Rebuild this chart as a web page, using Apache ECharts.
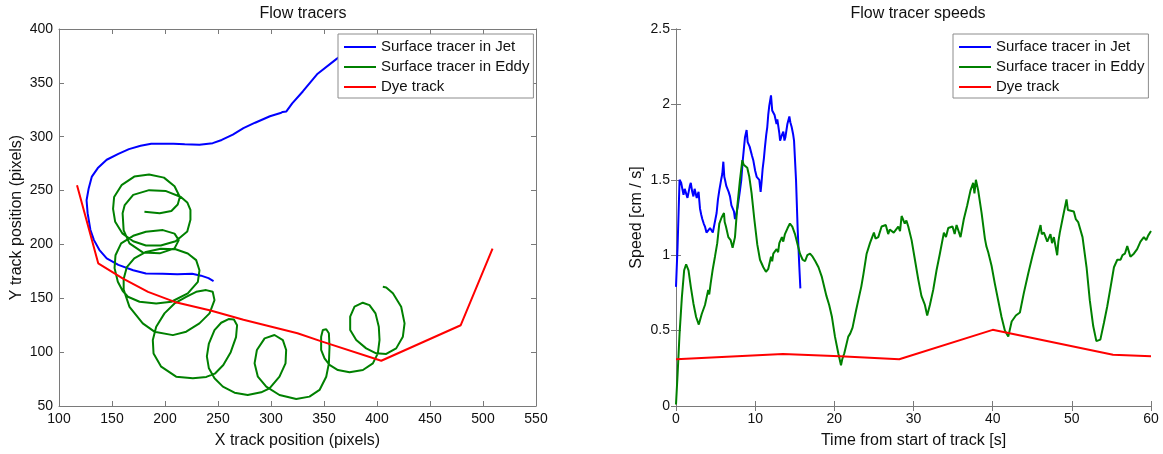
<!DOCTYPE html>
<html>
<head>
<meta charset="utf-8">
<script src="https://cdn.jsdelivr.net/npm/echarts@6/dist/echarts.min.js"></script>
<style>
  html, body { margin: 0; padding: 0; background: #fff; }
  #chart { width: 1163px; height: 454px; }
</style>
</head>
<body>
<div id="chart"></div>
<script>
const names = ['Surface tracer in Jet', 'Surface tracer in Eddy', 'Dye track'];

// left panel: tracer positions in pixels [x, y]
const jetPath = [[370,378],[361.6,372],[344,358.5],[330,342],[320,331],[314.5,323.5],[311,323],[309,322],[299,319],[285,313],[274,308],[264,302],[253.5,297],[245,294],[232.5,292.5],[218.6,293],[208,293.5],[187,293.5],[177,291.6],[166,288.5],[156,284],[145,278.6],[136.6,270.9],[131,263],[128,252],[126,241],[127,229],[129.6,213.6],[133,204],[138,195],[145,187],[156,181],[170,176],[182,173],[197.7,172.7],[211.6,172.4],[225.6,172.7],[234,171],[241,168.7],[245.8,166]];

const eddyPath = [[180.6,230.3],[195,229],[206,231],[212,237],[214,244],[209,254],[199,262],[185,265],[171,263],[159,255],[152,244],[151,233],[153,221],[160,210],[170,203],[182,199],[196,199],[210,203],[221,212],[224,223],[224,232],[221,239],[215,244],[201,249.5],[185,250.4],[170,246],[162,236.5],[160,229],[161,213],[166.5,201],[179,192.6],[195,191.7],[209,196.3],[213,204],[209,210],[198,213.3],[182,211.8],[170,208],[158.6,201],[153.3,190],[152.4,178],[155.5,165.4],[160,157],[165,151.4],[176,146.8],[191.7,145.2],[206,146.8],[221.5,154.5],[231,165.3],[232.5,176],[229.4,185.4],[221.5,191.6],[210,195.5],[196,196],[182,193],[171,187],[164,179],[161,168],[161,158],[166.5,142],[179,126.7],[190,119],[207.4,115.8],[220,119],[232.5,126.7],[242,136],[246.7,148.3],[245,156],[238.8,157.6],[229.4,156],[220,151.4],[209,145.2],[199.5,136],[191.7,123.6],[188.5,111.2],[189.2,98.8],[196.4,86.5],[210.5,77.2],[226.3,75.7],[239,77],[247,80],[255,88],[262,100],[267,114],[268,125],[265,130.4],[260,130.7],[253,127.3],[246.7,120.5],[241.4,108],[239.5,96],[241.4,85],[246.7,75.7],[254.6,68],[265.6,62.4],[278,60.2],[290.7,62.7],[298.6,66.4],[308,77.2],[313.7,89.6],[314.3,102],[311.2,111.2],[303.3,115.9],[294,112.8],[286.7,102],[284.5,89.6],[287.6,77.2],[295.5,68],[308,60.2],[323.8,56.5],[336.3,58.7],[345.8,64.9],[352.1,77.2],[354.6,89.6],[355.2,105],[354.6,117.5],[352.1,121.2],[348.9,120.5],[347.3,114.4],[347.3,102],[350.5,94.3],[355.2,88.1],[363.1,83.4],[374.1,81.3],[386.7,83.4],[396.1,89.6],[400.8,98.9],[402.4,111.3],[401.7,123.6],[398.6,136],[392.9,143.7],[386.6,145.9],[378.8,142.2],[374.7,132.9],[374.7,120.5],[380.4,111.3],[389.8,103.5],[399.2,98.9],[408.7,98.3],[418.1,103.5],[424.4,114.4],[426,126.7],[422.8,142.2],[415,154.6],[408.7,160.1],[405.5,160.7]];

const dyePath = [[117,255],[137,182.5],[160,168.5],[184,156],[211,146],[243,138.6],[274,130],[325,117.5],[347.6,110],[404,92],[479,125],[509,196]];

// right panel: [time s, speed cm/s]
const jetSpeed = [[0,0.79],[0.2,1.06],[0.45,1.5],[0.65,1.48],[0.95,1.4],[1.1,1.44],[1.28,1.45],[1.45,1.38],[1.58,1.39],[1.75,1.46],[1.87,1.48],[2.05,1.42],[2.2,1.39],[2.35,1.44],[2.5,1.45],[2.62,1.38],[2.73,1.39],[2.85,1.42],[3.03,1.31],[3.18,1.27],[3.32,1.24],[3.5,1.21],[3.66,1.19],[3.85,1.15],[4.07,1.16],[4.3,1.18],[4.5,1.19],[4.65,1.15],[4.8,1.16],[5.13,1.28],[5.3,1.37],[5.47,1.43],[5.7,1.5],[5.85,1.54],[5.98,1.62],[6.1,1.52],[6.19,1.5],[6.35,1.46],[6.48,1.47],[6.65,1.42],[6.82,1.39],[7.0,1.33],[7.15,1.34],[7.32,1.29],[7.45,1.24],[7.57,1.26],[7.79,1.32],[8.08,1.43],[8.25,1.5],[8.42,1.62],[8.6,1.72],[8.71,1.78],[8.92,1.83],[9.05,1.75],[9.13,1.76],[9.3,1.72],[9.43,1.73],[9.6,1.66],[9.76,1.63],[10.0,1.56],[10.19,1.52],[10.35,1.53],[10.52,1.5],[10.69,1.42],[10.8,1.48],[10.94,1.57],[11.1,1.64],[11.24,1.72],[11.4,1.8],[11.53,1.85],[11.65,1.93],[11.78,1.99],[12.0,2.06],[12.15,1.96],[12.3,1.97],[12.45,1.93],[12.55,1.94],[12.7,1.87],[12.8,1.9],[13.05,1.81],[13.15,1.76],[13.26,1.76],[13.4,1.8],[13.56,1.82],[13.7,1.76],[13.81,1.78],[14.07,1.87],[14.32,1.92],[14.45,1.88],[14.61,1.85],[14.8,1.8],[14.91,1.76],[15.16,1.5],[15.37,1.17],[15.58,0.92],[15.71,0.78]];

const eddySpeed = [[0,0.01],[0.2,0.21],[0.45,0.48],[0.74,0.72],[1.03,0.9],[1.28,0.94],[1.58,0.9],[1.87,0.79],[2.2,0.68],[2.54,0.59],[2.88,0.54],[3.0,0.54],[3.25,0.61],[3.66,0.67],[4.07,0.77],[4.2,0.74],[4.37,0.81],[4.62,0.9],[4.92,0.99],[5.21,1.08],[5.47,1.21],[5.76,1.25],[6.06,1.28],[6.15,1.22],[6.31,1.19],[6.61,1.12],[6.9,1.1],[7.15,1.05],[7.45,1.12],[7.74,1.32],[8.08,1.5],[8.38,1.63],[8.55,1.6],[8.71,1.61],[9.0,1.58],[9.26,1.52],[9.55,1.41],[9.89,1.24],[10.27,1.07],[10.61,0.97],[11.03,0.92],[11.36,0.89],[11.66,0.91],[12.0,0.99],[12.15,0.96],[12.29,1.01],[12.71,1.04],[12.9,1.02],[13.05,1.08],[13.38,1.12],[13.55,1.09],[13.76,1.14],[14.1,1.18],[14.39,1.21],[14.69,1.19],[15.03,1.14],[15.32,1.08],[15.66,1.01],[16.0,0.97],[16.3,0.96],[16.59,1.0],[16.93,1.01],[17.26,0.99],[17.6,0.96],[18.0,0.92],[18.4,0.86],[19.0,0.73],[19.35,0.67],[19.7,0.59],[20.08,0.46],[20.5,0.35],[20.84,0.27],[21.0,0.31],[21.26,0.35],[21.76,0.46],[22.0,0.48],[22.3,0.52],[22.73,0.63],[23.23,0.75],[23.4,0.79],[23.66,0.87],[24.08,1.01],[24.5,1.08],[25.0,1.15],[25.2,1.11],[25.55,1.12],[25.97,1.19],[26.5,1.2],[26.8,1.14],[27.0,1.17],[27.5,1.15],[28.08,1.19],[28.3,1.16],[28.5,1.26],[28.9,1.21],[29.1,1.23],[29.34,1.19],[29.76,1.1],[30.18,0.97],[30.6,0.84],[31.0,0.73],[31.44,0.67],[31.6,0.68],[31.73,0.6],[32.07,0.67],[32.49,0.77],[32.91,0.9],[33.33,1.01],[33.84,1.15],[34.1,1.12],[34.39,1.18],[34.93,1.19],[35.2,1.14],[35.44,1.2],[35.94,1.12],[36.36,1.24],[36.78,1.33],[37.2,1.43],[37.54,1.48],[37.7,1.41],[37.88,1.5],[38.17,1.43],[38.6,1.28],[39.02,1.11],[39.2,1.06],[39.44,1.02],[39.86,0.93],[40.28,0.81],[40.7,0.7],[41.12,0.59],[41.54,0.5],[41.97,0.46],[42.4,0.56],[42.93,0.6],[43.44,0.62],[43.94,0.75],[44.5,0.88],[45.0,0.99],[45.55,1.1],[46.05,1.2],[46.2,1.14],[46.47,1.15],[46.9,1.09],[47.3,1.14],[47.5,1.08],[47.73,1.12],[48.15,1.0],[48.3,1.09],[48.48,1.15],[48.9,1.26],[49.33,1.37],[49.5,1.3],[49.75,1.3],[50.25,1.29],[50.5,1.24],[50.8,1.22],[51.35,1.12],[51.86,0.92],[52.27,0.7],[52.7,0.53],[53.1,0.43],[53.6,0.44],[54.05,0.55],[54.47,0.66],[54.9,0.79],[55.32,0.92],[55.74,0.97],[56.16,0.97],[56.4,1.0],[56.7,1.01],[57.0,1.06],[57.4,0.99],[57.83,1.01],[58.25,1.04],[58.67,1.09],[59.1,1.12],[59.4,1.1],[59.64,1.13],[60,1.16]];

const dyeSpeed = [[0,0.31],[13.5,0.345],[20.7,0.33],[28.2,0.31],[40,0.505],[55.2,0.34],[60,0.33]];

const colors = ['#0000ff', '#008000', '#ff0000'];
const font = 'Liberation Sans, Arial, Helvetica, sans-serif';
const axisGray = '#7a7a7a';

function mainAxis(pos, grid, min, max, interval, name, nameGap) {
  return {
    type: 'value', gridIndex: grid, position: pos,
    min: min, max: max, interval: interval,
    name: name, nameLocation: 'middle', nameGap: nameGap,
    nameTextStyle: { fontSize: 16, color: '#111', fontFamily: font },
    axisLine: { show: true, lineStyle: { color: axisGray, width: 1 } },
    axisTick: { show: true, inside: true, length: 5, lineStyle: { color: axisGray } },
    axisLabel: { fontSize: 14, color: '#111', fontFamily: font, margin: 6 },
    splitLine: { show: false }
  };
}

function sideAxis(pos, grid, min, max, interval) {
  return {
    type: 'value', gridIndex: grid, position: pos,
    min: min, max: max, interval: interval,
    axisLine: { show: true, lineStyle: { color: axisGray, width: 1 } },
    axisTick: { show: true, inside: true, length: 5, lineStyle: { color: axisGray } },
    axisLabel: { show: false },
    splitLine: { show: false }
  };
}

function lineSeries(i, grid, data) {
  return {
    name: names[i], type: 'line', data: data,
    xAxisIndex: grid * 2, yAxisIndex: grid * 2,
    symbol: 'none', showSymbol: false,
    lineStyle: { color: colors[i], width: 2 },
    itemStyle: { color: colors[i] },
    animation: false
  };
}

function legendAt(left) {
  return {
    data: names, orient: 'vertical', left: left, top: 34,
    backgroundColor: '#fff', borderColor: '#8c8c8c', borderWidth: 1,
    padding: [5, 4, 3, 6], itemGap: 4, itemWidth: 32, itemHeight: 2,
    icon: 'rect',
    textStyle: { fontSize: 15, lineHeight: 16, color: '#111', fontFamily: font },
    selectedMode: false
  };
}

const chart = echarts.init(document.getElementById('chart'));

chart.setOption({
  backgroundColor: '#fff',
  animation: false,
  title: [
    { text: 'Flow tracers', left: 298, top: 1, textAlign: 'center',
      textStyle: { fontSize: 16, fontWeight: 'normal', color: '#111', fontFamily: font } },
    { text: 'Flow tracer speeds', left: 913, top: 1, textAlign: 'center',
      textStyle: { fontSize: 16, fontWeight: 'normal', color: '#111', fontFamily: font } }
  ],
  legend: [legendAt(338), legendAt(953)],
  grid: [
    { left: 59, top: 29, width: 477, height: 377 },
    { left: 676, top: 29, width: 475, height: 377 }
  ],
  xAxis: [
    mainAxis('bottom', 0, 100, 550, 50, 'X track position (pixels)', 27),
    sideAxis('top', 0, 100, 550, 50),
    mainAxis('bottom', 1, 0, 60, 10, 'Time from start of track [s]', 27),
    sideAxis('top', 1, 0, 60, 10)
  ],
  yAxis: [
    mainAxis('left', 0, 50, 400, 50, 'Y track position (pixels)', 34),
    sideAxis('right', 0, 50, 400, 50),
    mainAxis('left', 1, 0, 2.5, 0.5, 'Speed [cm / s]', 31),
    sideAxis('right', 1, 0, 2.5, 0.5)
  ],
  series: [
    lineSeries(0, 0, jetPath),
    lineSeries(1, 0, eddyPath),
    lineSeries(2, 0, dyePath),
    lineSeries(0, 1, jetSpeed),
    lineSeries(1, 1, eddySpeed),
    lineSeries(2, 1, dyeSpeed)
  ]
});
</script>
</body>
</html>
